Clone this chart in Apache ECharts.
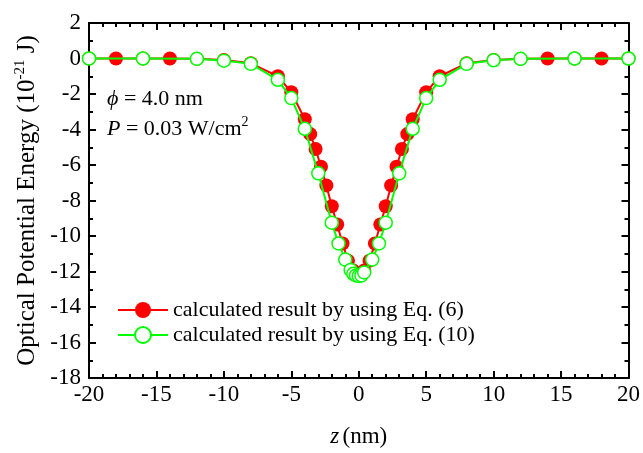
<!DOCTYPE html>
<html>
<head>
<meta charset="utf-8">
<script src="https://cdn.jsdelivr.net/npm/echarts@6/dist/echarts.min.js"></script>
<style>
  html, body { margin: 0; padding: 0; background: #fff; }
  #chart { width: 643px; height: 453px; }
</style>
</head>
<body>
<div id="chart"></div>
<script>
// Optical potential energy along z, two calculation methods
const zEq6 = [-20, -18, -16, -14, -12, -10, -8, -6, -5, -4, -3.6, -3.2, -2.8, -2.4, -2, -1.6, -1.2, -0.8, -0.4, 0,
              0.4, 0.8, 1.2, 1.6, 2, 2.4, 2.8, 3.2, 3.6, 4, 5, 6, 8, 10, 12, 14, 16, 18, 20];
const uEq6 = [0, 0, 0, 0, -0.02, -0.08, -0.27, -1.0, -1.9, -3.42, -4.26, -5.1, -6.1, -7.15, -8.32, -9.35, -10.42, -11.39, -11.95, -12.2,
              -11.95, -11.39, -10.42, -9.35, -8.32, -7.15, -6.1, -5.1, -4.26, -3.42, -1.9, -1.0, -0.27, -0.08, -0.02, 0, 0, 0, 0];

const zEq10 = [-20, -16, -12, -10, -8, -6, -5, -4, -3, -2, -1.5, -1, -0.6, -0.4, -0.2, 0, 0.2, 0.4,
               1, 1.5, 2, 3, 4, 5, 6, 8, 10, 12, 16, 20];
const uEq10 = [0, 0, -0.02, -0.12, -0.3, -1.2, -2.23, -3.96, -6.47, -9.25, -10.42, -11.33, -11.91, -12.13, -12.22, -12.25, -12.22, -12.05,
               -11.33, -10.42, -9.25, -6.47, -3.96, -2.23, -1.2, -0.3, -0.1, -0.02, 0, 0];

const seriesNames = ['calculated result by using Eq. (6)', 'calculated result by using Eq. (10)'];

const FONT = '"Liberation Serif", "DejaVu Serif", serif';

function pairs(xs, ys) { return xs.map((x, i) => [x, ys[i]]); }

const chart = echarts.init(document.getElementById('chart'), null, { renderer: 'canvas' });

const tickCommon = {
  axisLine: { show: true, onZero: false, lineStyle: { color: '#000', width: 2 } },
  axisTick: { show: true, inside: true, length: 7, lineStyle: { color: '#000', width: 2 } },
  splitLine: { show: false }
};

chart.setOption({
  animation: false,
  backgroundColor: '#fff',
  grid: { left: 89, right: 13, top: 23, bottom: 71 },
  xAxis: [
    Object.assign({
      type: 'value', min: -20, max: 20, interval: 5, position: 'bottom',
      minorTick: { show: true, splitNumber: 5, length: 4, lineStyle: { color: '#000', width: 2 } },
      axisLabel: { color: '#000', fontFamily: FONT, fontSize: 23, margin: 5 },
      name: '{i|z} {n|(nm)}', nameLocation: 'middle', nameGap: 47,
      nameTextStyle: {
        rich: {
          i: { fontFamily: FONT, fontSize: 23, fontStyle: 'italic', color: '#000' },
          n: { fontFamily: FONT, fontSize: 23, color: '#000' }
        }
      }
    }, tickCommon),
    Object.assign({
      type: 'value', min: -20, max: 20, interval: 5, position: 'top',
      minorTick: { show: true, splitNumber: 5, length: 4, lineStyle: { color: '#000', width: 2 } },
      axisLabel: { show: false }
    }, tickCommon)
  ],
  yAxis: [
    Object.assign({
      type: 'value', min: -18, max: 2, interval: 2, position: 'left',
      minorTick: { show: true, splitNumber: 2, length: 4, lineStyle: { color: '#000', width: 2 } },
      axisLabel: { color: '#000', fontFamily: FONT, fontSize: 23, margin: 8 },
      name: '{a|Optical Potential Energy (10}{s|-21}{a| J)}', nameLocation: 'middle', nameGap: 47,
      nameRotate: 90,
      nameTextStyle: {
        rich: {
          a: { fontFamily: FONT, fontSize: 25, color: '#000', lineHeight: 28 },
          s: { fontFamily: FONT, fontSize: 15, color: '#000', lineHeight: 15, verticalAlign: 'top' }
        }
      }
    }, tickCommon),
    Object.assign({
      type: 'value', min: -18, max: 2, interval: 2, position: 'right',
      minorTick: { show: true, splitNumber: 2, length: 4, lineStyle: { color: '#000', width: 2 } },
      axisLabel: { show: false }
    }, tickCommon)
  ],
  legend: {
    orient: 'vertical', left: 112, top: 294, itemWidth: 50, itemHeight: 20, itemGap: 3,
    textStyle: { fontFamily: FONT, fontSize: 22, color: '#000' },
    data: seriesNames
  },
  graphic: [
    {
      type: 'text', left: 107, top: 88,
      style: {
        text: '{i|ϕ} = 4.0 nm',
        font: '22px ' + FONT, fill: '#000',
        rich: { i: { fontFamily: FONT, fontSize: 22, fontStyle: 'italic', fill: '#000' } }
      }
    },
    {
      type: 'text', left: 107, top: 115,
      style: {
        text: '{i|P}{t| = 0.03 W/cm}{s|2}',
        fill: '#000',
        rich: {
          i: { fontFamily: FONT, fontSize: 22, fontStyle: 'italic', fill: '#000', lineHeight: 28 },
          t: { fontFamily: FONT, fontSize: 22, fill: '#000', lineHeight: 28 },
          s: { fontFamily: FONT, fontSize: 14, fill: '#000', lineHeight: 14, verticalAlign: 'top' }
        }
      }
    }
  ],
  series: [
    {
      name: seriesNames[0], type: 'line', xAxisIndex: 0, yAxisIndex: 0,
      data: pairs(zEq6, uEq6),
      symbol: 'circle', symbolSize: 14,
      lineStyle: { color: '#ff0000', width: 2 },
      itemStyle: { color: '#ff0000', borderColor: '#ff0000', borderWidth: 0 },
      z: 2
    },
    {
      name: seriesNames[1], type: 'line', xAxisIndex: 0, yAxisIndex: 0,
      data: pairs(zEq10, uEq10),
      symbol: 'circle', symbolSize: 13,
      lineStyle: { color: '#00ff00', width: 2 },
      itemStyle: { color: '#ffffff', borderColor: '#00ff00', borderWidth: 1.5 },
      z: 3
    }
  ]
});
</script>
</body>
</html>
